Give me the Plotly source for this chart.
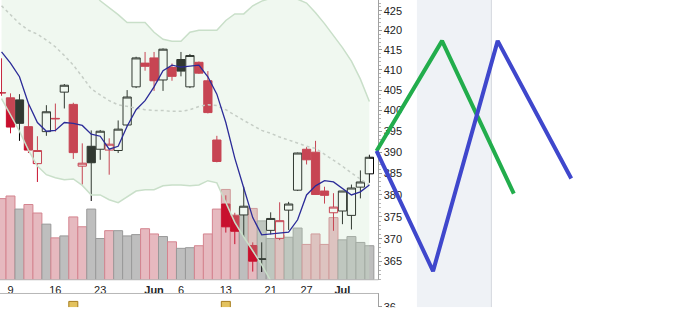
import math
import plotly.graph_objects as go

# ---- daily sessions -------------------------------------------------------
sessions = [
    "2022-05-06", "2022-05-09", "2022-05-10", "2022-05-11", "2022-05-12", "2022-05-13",
    "2022-05-16", "2022-05-17", "2022-05-18", "2022-05-19", "2022-05-20", "2022-05-23",
    "2022-05-24", "2022-05-25", "2022-05-26", "2022-05-27", "2022-05-31", "2022-06-01",
    "2022-06-02", "2022-06-03", "2022-06-06", "2022-06-07", "2022-06-08", "2022-06-09",
    "2022-06-10", "2022-06-13", "2022-06-14", "2022-06-15", "2022-06-16", "2022-06-17",
    "2022-06-21", "2022-06-22", "2022-06-23", "2022-06-24", "2022-06-27", "2022-06-28",
    "2022-06-29", "2022-06-30", "2022-07-01", "2022-07-05", "2022-07-06", "2022-07-07",
]
opens = [404.4, 403.1, 402.6, 396.1, 387.3, 394.9, 398.1, 404.5, 401.5, 386.7, 391.4, 390.7,
         390.5, 390.4, 396.5, 405.8, 411.7, 413.0, 407.5, 410.6, 412.6, 405.8, 411.9, 407.3,
         392.9, 377.9, 375.2, 375.4, 368.5, 365.4, 371.9, 370.1, 376.5, 381.1, 390.7, 390.0,
         380.9, 375.9, 376.3, 375.3, 381.8, 384.9]
highs = [412.9, 404.2, 404.0, 401.8, 393.8, 401.3, 401.7, 406.5, 401.9, 392.1, 395.2, 395.3,
         393.3, 397.6, 405.0, 413.3, 414.5, 414.5, 415.4, 411.6, 414.5, 414.0, 412.1, 409.7,
         393.9, 379.9, 375.9, 381.9, 369.2, 369.2, 376.0, 378.3, 378.4, 389.9, 391.2, 392.7,
         381.9, 380.4, 380.9, 382.4, 385.7, 389.4]
lows = [403.6, 394.5, 392.7, 389.8, 383.0, 393.9, 394.9, 400.5, 388.4, 382.4, 378.6, 388.2,
        384.7, 389.8, 396.2, 405.5, 409.8, 404.8, 404.8, 407.3, 408.4, 405.5, 409.0, 399.3,
        387.6, 371.4, 368.8, 370.4, 362.7, 362.6, 371.0, 369.7, 372.0, 380.9, 387.1, 380.0,
        378.0, 371.8, 373.3, 372.1, 379.2, 382.8]
closes = [404.3, 396.0, 396.9, 390.5, 390.4, 399.7, 398.0, 406.2, 389.9, 387.4, 387.5, 395.0,
          391.9, 395.5, 403.3, 413.0, 410.9, 407.3, 415.2, 408.4, 409.7, 413.6, 409.2, 399.5,
          387.8, 372.7, 371.7, 377.4, 365.0, 365.5, 374.6, 374.1, 377.9, 389.8, 388.2, 380.1,
          379.9, 377.2, 380.9, 381.6, 383.0, 388.8]
prior_close = 411.0  # close of the session before the first one shown

# volume, millions of shares
volume = [124, 128, 108, 115, 102, 85, 64, 67, 96, 81, 108, 63,
          75, 75, 67, 69, 78, 70, 66, 58, 48, 49, 52, 70,
          108, 138, 99, 110, 109, 90, 63, 68, 65, 79, 54, 70,
          54, 95, 61, 66, 57, 52]

# short moving average
ma_line = [414.5, 411.7, 408.3, 401.7, 397.1, 395.0, 395.2, 397.1, 396.9, 396.4, 394.3, 393.8,
           390.7, 391.4, 396.2, 400.2, 402.4, 405.8, 409.8, 411.2, 410.7, 411.0, 411.2, 408.3,
           404.0, 397.1, 388.6, 381.6, 374.8, 370.9, 371.1, 371.3, 371.5, 374.3, 380.0, 382.1,
           383.3, 383.0, 381.6, 380.0, 380.7, 382.3]

# Bollinger bands (20-day)
bb_upper = [449.7, 449.0, 448.4, 449.5, 451.3, 450.4, 447.5, 443.7, 438.7, 434.3, 430.5, 427.6,
            425.9, 424.0, 422.0, 422.0, 422.0, 419.5, 417.7, 417.2, 417.2, 419.5, 420.0, 420.0,
            420.0, 422.5, 424.2, 424.2, 426.3, 427.5, 428.3, 429.0, 428.5, 428.0, 427.0, 424.5,
            421.7, 418.7, 415.6, 412.2, 407.7, 402.2]
bb_mid = [426.3, 424.0, 421.7, 420.0, 419.0, 417.5, 415.8, 413.6, 411.2, 408.3, 405.3, 403.8,
          402.4, 401.4, 401.0, 400.5, 400.2, 400.0, 400.0, 399.8, 399.8, 400.2, 401.0, 401.4,
          401.2, 400.2, 398.8, 397.6, 396.4, 395.2, 394.5, 393.6, 392.9, 392.1, 391.4, 390.9,
          389.5, 388.1, 386.7, 385.1, 383.7, 382.3]
bb_lower = [402.9, 399.0, 395.0, 390.5, 386.7, 384.7, 384.0, 383.5, 383.7, 382.2, 380.0, 380.0,
            378.9, 378.2, 379.5, 380.9, 381.2, 381.2, 382.1, 382.3, 382.3, 382.1, 382.3, 383.3,
            382.8, 378.2, 373.7, 370.4, 367.3, 364.2, 360.7, 358.2, 357.3, 356.2, 355.8, 357.3,
            357.3, 357.5, 357.8, 358.0, 359.7, 360.5]

# axis labels
tick_dates = ["2022-05-09", "2022-05-16", "2022-05-23", "2022-06-01", "2022-06-06",
              "2022-06-13", "2022-06-21", "2022-06-27", "2022-07-01"]
tick_text = ["9", "16", "23", "<b>Jun</b>", "6", "13", "21", "27", "<b>Jul</b>"]
price_ticks = [365, 370, 375, 380, 385, 390, 395, 400, 405, 410, 415, 420, 425]

# event markers in the lower strip
event_dates = ["2022-05-18", "2022-06-13"]

# projected paths, in session offsets and price
proj_green_x = [41.8, 49.1, 57.1]
proj_green_y = [390.3, 417.3, 380.3]
proj_blue_x = [41.8, 48.1, 55.3, 63.5]
proj_blue_y = [390.3, 362.8, 417.3, 383.8]
proj_zone = [46.3, 54.6]

# ---- layout constants ------------------------------------------------------
W, H = 678, 326
PRICE_BOTTOM = 1 - 285 / H
STRIP = [13 / H, 27 / H]
AXIS_POS = 377.5 / W
X_RANGE = [-0.17, 75.4]
Y_RANGE = [math.log10(360.9), math.log10(427.8)]
VOL_TOP = 427.5

RED = "#c8102e"
BLACK = "#000000"

x = list(range(len(sessions)))
tick_pos = [sessions.index(d) for d in tick_dates]
event_pos = [sessions.index(d) for d in event_dates]

prev = [prior_close] + closes[:-1]
is_red = [c < p for c, p in zip(closes, prev)]

fig = go.Figure()

# volume bars (base axis, drawn first)
fig.add_trace(go.Bar(
    x=x, y=volume, width=1.0,
    marker=dict(
        color=["#e6b9bf" if r else "#bebebe" for r in is_red],
        line=dict(color=["#d4848f" if r else "#999999" for r in is_red], width=1),
    ),
    xaxis="x", yaxis="y", hoverinfo="skip",
))

# Bollinger band
fig.add_trace(go.Scatter(x=x, y=bb_upper, mode="lines", line=dict(color="#c9dfc9", width=1.5),
                         xaxis="x", yaxis="y2", hoverinfo="skip"))
fig.add_trace(go.Scatter(x=x, y=bb_lower, mode="lines", line=dict(color="#c9dfc9", width=1.5),
                         fill="tonexty", fillcolor="rgba(195,228,195,0.25)",
                         xaxis="x", yaxis="y2", hoverinfo="skip"))
fig.add_trace(go.Scatter(x=x, y=bb_mid, mode="lines", line=dict(color="#c6cec6", width=1.5, dash="dot"),
                         xaxis="x", yaxis="y2", hoverinfo="skip"))

# moving average
fig.add_trace(go.Scatter(x=x, y=ma_line, mode="lines", line=dict(color="#2b2b98", width=1.3),
                         xaxis="x", yaxis="y2", hoverinfo="skip"))


def candle_group(mask, color):
    idx = [i for i in x if mask[i]]
    return go.Candlestick(
        x=idx,
        open=[opens[i] for i in idx], high=[highs[i] for i in idx],
        low=[lows[i] for i in idx], close=[closes[i] for i in idx],
        increasing=dict(line=dict(color=color, width=1), fillcolor="#ffffff"),
        decreasing=dict(line=dict(color=color, width=1), fillcolor=color),
        xaxis="x", yaxis="y2", hoverinfo="skip",
    )


fig.add_trace(candle_group([not r for r in is_red], BLACK))
fig.add_trace(candle_group(is_red, RED))

# projected paths
fig.add_trace(go.Scatter(x=proj_green_x, y=proj_green_y, mode="lines",
                         line=dict(color="#22ad4c", width=4), xaxis="x", yaxis="y2", hoverinfo="skip"))
fig.add_trace(go.Scatter(x=proj_blue_x, y=proj_blue_y, mode="lines",
                         line=dict(color="#3f47cc", width=4), xaxis="x", yaxis="y2", hoverinfo="skip"))

# event markers
fig.add_trace(go.Scatter(x=event_pos, y=[36.3] * len(event_pos), mode="markers",
                         marker=dict(symbol="square", size=9, color="#e3c25e",
                                     line=dict(color="#a67c1c", width=1)),
                         xaxis="x", yaxis="y3", hoverinfo="skip"))

font = dict(family="Arial, Liberation Sans, sans-serif", size=11, color="#222222")

fig.update_layout(
    width=W, height=H, margin=dict(l=0, r=0, t=0, b=0),
    paper_bgcolor="white", plot_bgcolor="white",
    showlegend=False, boxgap=0.08, boxgroupgap=0, hovermode=False,
    xaxis=dict(domain=[0, 1], range=X_RANGE, showgrid=False, zeroline=False, showline=False,
               tickmode="array", tickvals=tick_pos, ticktext=tick_text, ticks="",
               ticklabelstandoff=2,
               tickfont=font, rangeslider=dict(visible=False), fixedrange=True),
    yaxis=dict(domain=[PRICE_BOTTOM, 1], range=[0, VOL_TOP], visible=False, fixedrange=True),
    yaxis2=dict(overlaying="y", type="log", range=Y_RANGE, anchor="free", position=AXIS_POS,
                side="right", tickmode="array", tickvals=price_ticks, ticks="outside", ticklen=3,
                tickcolor="#999999", showline=True, linecolor="#a0a0a0", linewidth=1,
                showgrid=False, zeroline=False, tickfont=font, layer="below traces",
                minor=dict(tickvals=list(range(361, 428)), ticks="outside", ticklen=2,
                           tickcolor="#b5b5b5"),
                fixedrange=True),
    yaxis3=dict(domain=STRIP, range=[35.9, 40], anchor="free", position=AXIS_POS, side="right",
                tickmode="array", tickvals=[36], ticks="outside", ticklen=3, tickcolor="#999999",
                showline=True, linecolor="#a0a0a0", linewidth=1, showgrid=False, zeroline=False,
                tickfont=font, fixedrange=True),
    shapes=[
        dict(type="rect", xref="x", yref="paper", x0=proj_zone[0], x1=proj_zone[1],
             y0=STRIP[0], y1=1, fillcolor="#eff2f6", line=dict(width=0), layer="below"),
        dict(type="line", xref="x", yref="paper", x0=proj_zone[1], x1=proj_zone[1],
             y0=STRIP[0], y1=1, line=dict(color="#d4d8de", width=1), layer="below"),
        dict(type="line", xref="x", yref="paper", x0=X_RANGE[0], x1=42.0,
             y0=PRICE_BOTTOM, y1=PRICE_BOTTOM, line=dict(color="#b8b8b8", width=1)),
        dict(type="line", xref="x", yref="paper", x0=X_RANGE[0], x1=42.0,
             y0=STRIP[1], y1=STRIP[1], line=dict(color="#b8b8b8", width=1)),
        dict(type="rect", xref="paper", yref="paper", x0=0, x1=1, y0=0, y1=STRIP[0],
             fillcolor="white", line=dict(width=0), layer="above"),
    ],
)

fig.write_html("out.html", config={"displayModeBar": False})
